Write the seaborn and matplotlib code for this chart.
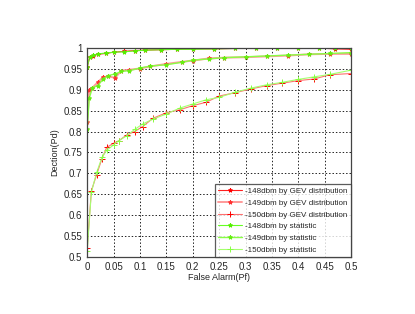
import numpy as np
import matplotlib
matplotlib.use("Agg")
import matplotlib.pyplot as plt
import pandas as pd
import seaborn as sns

# false alarm grids
pf_148 = [0, 0.005, 0.012, 0.02, 0.035, 0.05, 0.07, 0.09, 0.11, 0.14, 0.17, 0.2,
          0.24, 0.28, 0.32, 0.36, 0.4, 0.44, 0.47, 0.5]
pf_149 = [0, 0.004, 0.01, 0.02, 0.03, 0.04, 0.053, 0.065, 0.08, 0.1, 0.12, 0.15,
          0.18, 0.2, 0.23, 0.26, 0.3, 0.34, 0.38, 0.42, 0.46, 0.5]
pf_150 = [0, 0.008, 0.018, 0.028, 0.037, 0.05, 0.06, 0.075, 0.09, 0.105, 0.125, 0.15,
          0.175, 0.2, 0.225, 0.25, 0.28, 0.31, 0.34, 0.37, 0.4, 0.43, 0.46, 0.5]

# detection probability, GEV distribution
pd_gev_148 = [0.954, 0.979, 0.982, 0.985, 0.987, 0.990, 0.992, 0.994, 0.995, 0.996,
              0.997, 0.998, 0.998, 0.999, 0.999, 0.999, 0.999, 1.0, 0.998, 0.997]
pd_gev_149 = [0.823, 0.899, 0.905, 0.918, 0.930, 0.932, 0.929, 0.946, 0.948, 0.951,
              0.956, 0.962, 0.967, 0.970, 0.975, 0.977, 0.978, 0.980, 0.982, 0.985,
              0.986, 0.986]
pd_gev_150 = [0.52, 0.658, 0.697, 0.735, 0.762, 0.772, 0.778, 0.792, 0.800, 0.812,
              0.832, 0.845, 0.852, 0.862, 0.870, 0.885, 0.893, 0.902, 0.910, 0.916,
              0.922, 0.926, 0.936, 0.939]

# detection probability, statistic
pd_st_148 = [0.955, 0.978, 0.983, 0.986, 0.988, 0.990, 0.991, 0.993, 0.995, 0.996,
             0.997, 0.997, 0.998, 0.999, 0.999, 1.0, 0.999, 1.0, 1.0, 0.999]
pd_st_149 = [0.806, 0.88, 0.905, 0.91, 0.925, 0.934, 0.938, 0.944, 0.946, 0.952,
             0.957, 0.960, 0.966, 0.971, 0.974, 0.977, 0.979, 0.981, 0.983, 0.985,
             0.987, 0.989]
pd_st_150 = [0.513, 0.655, 0.702, 0.738, 0.755, 0.768, 0.778, 0.790, 0.805, 0.818,
             0.830, 0.842, 0.856, 0.866, 0.876, 0.882, 0.894, 0.904, 0.912, 0.918,
             0.925, 0.931, 0.937, 0.947]

xticks = [0, 0.05, 0.1, 0.15, 0.2, 0.25, 0.3, 0.35, 0.4, 0.45, 0.5]
yticks = [0.5, 0.55, 0.6, 0.65, 0.7, 0.75, 0.8, 0.85, 0.9, 0.95, 1]

sns.set_style("white")
plt.rcParams['font.family'] = ['Liberation Sans', 'DejaVu Sans']

fig, ax = plt.subplots(figsize=(4.15, 3.14), dpi=100)
fig.subplots_adjust(left=0.21, right=0.846, top=0.847, bottom=0.182)

series = [
    ("-148dbm by GEV distribution", pf_148, pd_gev_148, "#ff2020", 0.8, "*", 3, "#ff0000"),
    ("-149dbm by GEV distribution", pf_149, pd_gev_149, "#ff9a9a", 1.4, "*", 3, "#ff3030"),
    ("-150dbm by GEV distribution", pf_150, pd_gev_150, "#ff7070", 0.8, "+", 5, "#ff0000"),
    ("-148dbm by statistic", pf_148, pd_st_148, "#66ff22", 0.8, "*", 3, "#55ee00"),
    ("-149dbm by statistic", pf_149, pd_st_149, "#88ff44", 1.0, "*", 3, "#66ee11"),
    ("-150dbm by statistic", pf_150, pd_st_150, "#a6ff70", 0.8, "+", 5, "#88ff44"),
]

for label, x, y, lc, lw, mk, ms, mc in series:
    df = pd.DataFrame({"pf": x, "pd": y})
    sns.lineplot(data=df, x="pf", y="pd", ax=ax, color=lc, linewidth=lw,
                 marker=mk, markersize=ms, markeredgecolor=mc, markerfacecolor=mc,
                 markeredgewidth=0.7, sort=False, estimator=None, label=label)

ax.set_xlim(0, 0.5)
ax.set_ylim(0.5, 1)
ax.set_xticks(xticks)
ax.set_yticks(yticks)
ax.set_xticklabels([f"{t:g}" for t in xticks], fontsize=7)
ax.set_yticklabels([f"{t:g}" for t in yticks], fontsize=7)
ax.tick_params(direction="in", length=3, width=0.6, color="#333333")
ax.grid(True, color="#222222", linestyle=(0, (1.5, 2)), linewidth=0.7)
for s in ax.spines.values():
    s.set_color("#444444")
    s.set_linewidth(0.9)

ax.set_xlabel("False Alarm(Pf)", fontsize=6.5, labelpad=1)
ax.set_ylabel("Dection(Pd)", fontsize=6.5, labelpad=3)

leg = ax.legend(loc="lower right", fontsize=5.8, frameon=True, fancybox=False,
                borderaxespad=0, handlelength=3.0, labelspacing=0.5,
                borderpad=0.4, handletextpad=0.4)
leg.get_frame().set_edgecolor("#333333")
leg.get_frame().set_linewidth(0.9)

fig.savefig("out.png", dpi=100)
